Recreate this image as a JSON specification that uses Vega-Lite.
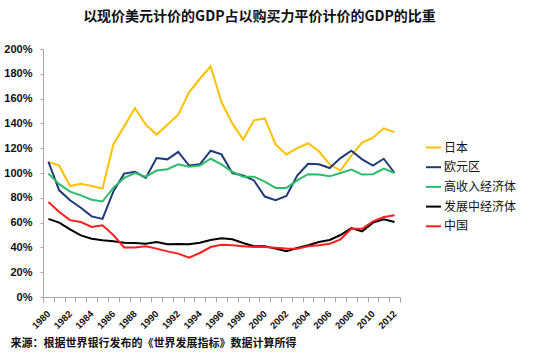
{
  "$schema": "https://vega.github.io/schema/vega-lite/v6.json",
  "width": 357,
  "height": 248,
  "autosize": {"type": "none"},
  "padding": {"left": 43, "top": 49, "right": 150, "bottom": 57},
  "background": "white",
  "config": {"view": {"stroke": null}},
  "title": {
    "text": "以现价美元计价的GDP占以购买力平价计价的GDP的比重",
    "font": "Noto Sans CJK SC",
    "fontSize": 14,
    "fontWeight": "bold",
    "color": "#111111",
    "anchor": "middle",
    "frame": "group",
    "dx": 38,
    "offset": 19
  },
  "data": {
    "values": [
      {"year": 1980, "日本": 109, "欧元区": 109, "高收入经济体": 99.5, "发展中经济体": 63, "中国": 76.6},
      {"year": 1981, "日本": 106, "欧元区": 86, "高收入经济体": 91, "发展中经济体": 60, "中国": 68.5},
      {"year": 1982, "日本": 89.5, "欧元区": 78, "高收入经济体": 85, "发展中经济体": 54.6, "中国": 62},
      {"year": 1983, "日本": 91.4, "欧元区": 72, "高收入经济体": 82, "发展中经济体": 49.7, "中国": 60.5},
      {"year": 1984, "日本": 89.5, "欧元区": 65, "高收入经济体": 78.5, "发展中经济体": 47, "中国": 56.5},
      {"year": 1985, "日本": 87.4, "欧元区": 63, "高收入经济体": 77, "发展中经济体": 45.7, "中国": 57.8},
      {"year": 1986, "日本": 123, "欧元区": 85, "高收入经济体": 88, "发展中经济体": 45, "中国": 50},
      {"year": 1987, "日本": 137.6, "欧元区": 99.5, "高收入经济体": 96, "发展中经济体": 43.8, "中国": 40},
      {"year": 1988, "日本": 152.4, "欧元区": 101, "高收入经济体": 100, "发展中经济体": 43.5, "中国": 40},
      {"year": 1989, "日本": 139, "欧元区": 96, "高收入经济体": 97, "发展中经济体": 43, "中国": 41},
      {"year": 1990, "日本": 131, "欧元区": 112, "高收入经济体": 102, "发展中经济体": 44.4, "中国": 39},
      {"year": 1991, "日本": 139, "欧元区": 111, "高收入经济体": 103, "发展中经济体": 42.5, "中国": 36.8},
      {"year": 1992, "日本": 147, "欧元区": 117, "高收入经济体": 107, "发展中经济体": 42.7, "中国": 35},
      {"year": 1993, "日本": 165, "欧元区": 106, "高收入经济体": 105, "发展中经济体": 42.5, "中国": 31.7},
      {"year": 1994, "日本": 176, "欧元区": 107, "高收入经济体": 106, "发展中经济体": 43.8, "中国": 35.5},
      {"year": 1995, "日本": 186, "欧元区": 118, "高收入经济体": 111.5, "发展中经济体": 46, "中国": 40.3},
      {"year": 1996, "日本": 157, "欧元区": 115, "高收入经济体": 107, "发展中经济体": 47.3, "中国": 42.2},
      {"year": 1997, "日本": 140, "欧元区": 100, "高收入经济体": 101, "发展中经济体": 46.5, "中国": 41.7},
      {"year": 1998, "日本": 127, "欧元区": 98, "高收入经济体": 97, "发展中经济体": 43.5, "中国": 41},
      {"year": 1999, "日本": 142.5, "欧元区": 94, "高收入经济体": 97, "发展中经济体": 41, "中国": 40.3},
      {"year": 2000, "日本": 144, "欧元区": 81, "高收入经济体": 93, "发展中经济体": 41, "中国": 40.3},
      {"year": 2001, "日本": 123, "欧元区": 78, "高收入经济体": 88, "发展中经济体": 39, "中国": 39.8},
      {"year": 2002, "日本": 115, "欧元区": 81.5, "高收入经济体": 88, "发展中经济体": 37, "中国": 39.2},
      {"year": 2003, "日本": 120, "欧元区": 98, "高收入经济体": 94, "发展中经济体": 39.5, "中国": 39},
      {"year": 2004, "日本": 124, "欧元区": 107.5, "高收入经济体": 99, "发展中经济体": 41.7, "中国": 41},
      {"year": 2005, "日本": 117.5, "欧元区": 107, "高收入经济体": 98.7, "发展中经济体": 44.4, "中国": 41.7},
      {"year": 2006, "日本": 107, "欧元区": 104, "高收入经济体": 97.3, "发展中经济体": 46, "中国": 43},
      {"year": 2007, "日本": 102, "欧元区": 112, "高收入经济体": 100, "发展中经济体": 50, "中国": 46.5},
      {"year": 2008, "日本": 114, "欧元区": 118, "高收入经济体": 102.7, "发展中经济体": 55.6, "中国": 55},
      {"year": 2009, "日本": 124.5, "欧元区": 111, "高收入经济体": 98.7, "发展中经济体": 53, "中国": 55},
      {"year": 2010, "日本": 128.5, "欧元区": 106, "高收入经济体": 99, "发展中经济体": 60, "中国": 61},
      {"year": 2011, "日本": 136, "欧元区": 111.5, "高收入经济体": 103.5, "发展中经济体": 62.6, "中国": 64.5},
      {"year": 2012, "日本": 133, "欧元区": 100, "高收入经济体": 100, "发展中经济体": 60.5, "中国": 66}
    ]
  },
  "transform": [
    {"fold": ["日本", "欧元区", "高收入经济体", "发展中经济体", "中国"], "as": ["series", "value"]}
  ],
  "encoding": {
    "y": {
      "field": "value",
      "type": "quantitative",
      "scale": {"domain": [0, 200], "nice": false, "zero": true},
      "axis": {
        "title": null,
        "values": [0, 20, 40, 60, 80, 100, 120, 140, 160, 180, 200],
        "labelExpr": "datum.value + '%'",
        "grid": false,
        "domainColor": "#A6A6A6",
        "tickColor": "#A6A6A6",
        "tickSize": 3,
        "labelPadding": 8,
        "labelFont": "Liberation Sans",
        "labelFontSize": 11,
        "labelFontWeight": "bold",
        "labelColor": "#111111"
      }
    },
    "color": {
      "field": "series",
      "type": "nominal",
      "scale": {
        "domain": ["日本", "欧元区", "高收入经济体", "发展中经济体", "中国"],
        "range": ["#FFC000", "#1F3A7A", "#2BBD68", "#000000", "#FF1F1F"]
      },
      "legend": {
        "title": null,
        "orient": "none",
        "legendX": 382,
        "legendY": 90,
        "symbolType": "stroke",
        "symbolSize": 225,
        "symbolStrokeWidth": 2,
        "labelFont": "Noto Sans CJK SC",
        "labelFontSize": 12,
        "labelColor": "#111111",
        "labelOffset": 2,
        "rowPadding": 4.7,
        "padding": 0
      }
    }
  },
  "layer": [
    {
      "transform": [{"filter": {"field": "series", "oneOf": ["日本", "欧元区", "高收入经济体"]}}],
      "mark": {"type": "line", "strokeWidth": 2},
      "encoding": {
        "x": {
          "field": "year",
          "type": "quantitative",
          "scale": {"domain": [1979.5, 2012.5], "nice": false, "zero": false},
          "axis": {
            "orient": "bottom",
            "title": null,
            "values": [1979.5, 1980.5, 1981.5, 1982.5, 1983.5, 1984.5, 1985.5, 1986.5, 1987.5, 1988.5, 1989.5, 1990.5, 1991.5, 1992.5, 1993.5, 1994.5, 1995.5, 1996.5, 1997.5, 1998.5, 1999.5, 2000.5, 2001.5, 2002.5, 2003.5, 2004.5, 2005.5, 2006.5, 2007.5, 2008.5, 2009.5, 2010.5, 2011.5, 2012.5],
            "labels": false,
            "grid": false,
            "domainColor": "#A6A6A6",
            "tickColor": "#A6A6A6",
            "tickSize": 5
          }
        }
      }
    },
    {
      "transform": [{"filter": {"field": "series", "oneOf": ["发展中经济体", "中国"]}}],
      "mark": {"type": "line", "strokeWidth": 2},
      "encoding": {
        "x": {
          "field": "year",
          "type": "quantitative",
          "scale": {"domain": [1979.5, 2012.5], "nice": false, "zero": false},
          "axis": {
            "orient": "bottom",
            "values": [1980, 1982, 1984, 1986, 1988, 1990, 1992, 1994, 1996, 1998, 2000, 2002, 2004, 2006, 2008, 2010, 2012],
            "format": "d",
            "ticks": false,
            "domain": false,
            "grid": false,
            "labelAngle": -45,
            "labelAlign": "right",
            "labelBaseline": "middle",
            "labelPadding": 15,
            "labelFont": "Liberation Sans",
            "labelFontSize": 9.5,
            "labelFontWeight": "bold",
            "labelColor": "#111111",
            "labelOverlap": false,
            "title": "来源：根据世界银行发布的《世界发展指标》数据计算所得",
            "titleFont": "Noto Sans CJK SC",
            "titleFontSize": 11,
            "titleFontWeight": "bold",
            "titleColor": "#111111",
            "titleAnchor": "start",
            "titleAlign": "left",
            "titleBaseline": "middle",
            "titleX": -33,
            "titleY": 46
          }
        }
      }
    }
  ],
  "resolve": {"axis": {"x": "independent"}}
}
